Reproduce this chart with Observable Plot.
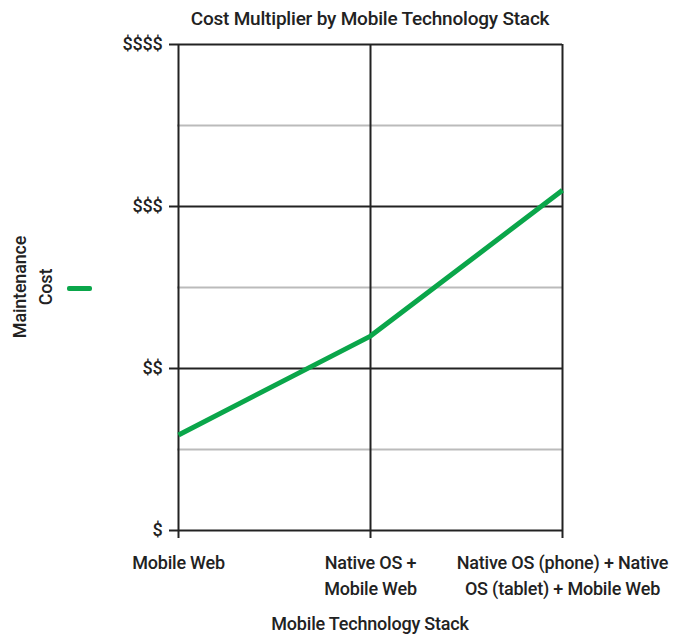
<!DOCTYPE html>
<html>
<head>
<meta charset="utf-8">
<script src="https://cdn.jsdelivr.net/npm/d3@7"></script>
<script src="https://cdn.jsdelivr.net/npm/@observablehq/plot@0.6"></script>
<style>
  body { margin: 0; background: #fff; font-family: Roboto, "Liberation Sans", Arial, sans-serif; font-weight: 500; color: #222; }
  #wrap { position: relative; width: 674px; height: 638px; }
  #title { position: absolute; left: 0; top: 7px; width: 740px; text-align: center; font-size: 19px; letter-spacing: -0.2px; z-index: 2; }
  #chart { position: absolute; left: 0; top: 34px; z-index: 1; }
  #ylab { position: absolute; left: 33px; top: 287px; transform: translate(-50%, -50%) rotate(-90deg); text-align: center; font-size: 18px; line-height: 26px; white-space: nowrap; letter-spacing: -0.2px; z-index: 2; }
  #swatch { position: absolute; left: 67px; top: 286px; width: 25px; height: 5px; background: #0aa64a; border-radius: 2px; z-index: 2; }
  #chart svg text { letter-spacing: -0.2px; }
</style>
</head>
<body>
<div id="wrap">
  <div id="chart"></div>
  <div id="title">Cost Multiplier by Mobile Technology Stack</div>
  <div id="ylab">Maintenance<br>Cost</div>
  <div id="swatch"></div>
</div>
<script>
const categories = ["Mobile Web", "Native OS + Mobile Web", "Native OS (phone) + Native OS (tablet) + Mobile Web"];
const categoryLabels = ["Mobile Web", "Native OS +\nMobile Web", "Native OS (phone) + Native\nOS (tablet) + Mobile Web"];
const maintenanceCost = [1.59, 2.2, 3.1];
const yTicks = [1, 2, 3, 4];
const yTickLabels = ["$", "$$", "$$$", "$$$$"];
const minorTicks = [1.5, 2.5, 3.5];
const xTitle = "Mobile Technology Stack";

const data = categories.map((c, i) => ({cat: c, label: categoryLabels[i], value: maintenanceCost[i]}));
const font = `Roboto, "Liberation Sans", Arial, sans-serif`;

const chart = Plot.plot({
  width: 674,
  height: 604,
  marginTop: 10,
  marginLeft: 177,
  marginRight: 112,
  marginBottom: 108,
  style: {fontFamily: font, fontWeight: 500, background: "#fff", overflow: "visible"},
  x: {type: "point", domain: categories, padding: 0, axis: null},
  y: {domain: [1, 4], axis: null},
  marks: [
    Plot.ruleY(minorTicks, {stroke: "#bbb", strokeWidth: 2}),
    Plot.ruleY(yTicks, {stroke: "#222", strokeWidth: 2}),
    Plot.ruleX(categories, {stroke: "#222", strokeWidth: 2, y1: 1, y2: 4}),
    Plot.axisY(yTicks, {tickFormat: (d, i) => yTickLabels[i], tickSize: 8, fontSize: 18, stroke: "#222", strokeWidth: 2, tickPadding: 7, color: "#222", label: null}),
    Plot.axisX(categories, {tickFormat: () => "", tickSize: 8, stroke: "#222", strokeWidth: 2, label: null}),
    Plot.text(data, {
      x: "cat", text: "label", frameAnchor: "bottom", lineAnchor: "top", dy: 20,
      fontSize: 18, fill: "#222", lineHeight: 1.44
    }),
    Plot.text([xTitle], {text: d => d, frameAnchor: "bottom", lineAnchor: "top", dy: 87, fontSize: 18, fill: "#222"}),
    Plot.line(data, {x: "cat", y: "value", stroke: "#0aa64a", strokeWidth: 5, strokeLinecap: "butt"})
  ]
});
document.getElementById("chart").appendChild(chart);
</script>
</body>
</html>
